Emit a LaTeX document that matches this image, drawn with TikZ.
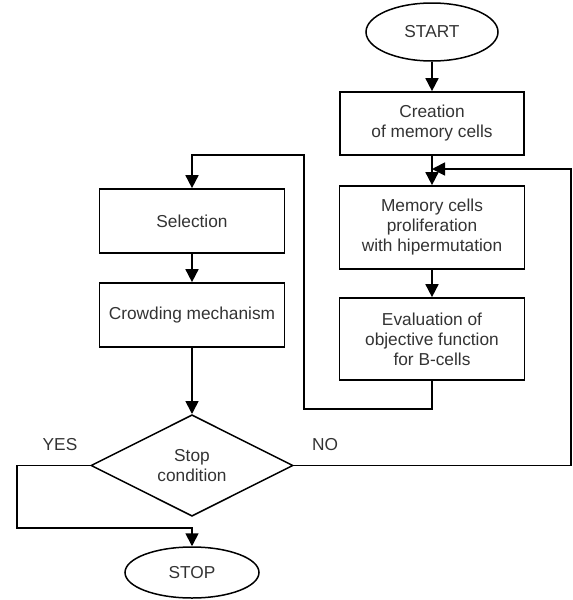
\documentclass[tikz,border=0pt]{standalone}
\usepackage{fontspec}
\setmainfont{Liberation Sans}
\usetikzlibrary{shapes.geometric,arrows.meta}
\begin{document}
\begin{tikzpicture}[x=1pt,y=-1pt,
  every node/.style={font=\fontsize{17.3}{20}\selectfont, text=black!80},
  box/.style={draw, line width=1.7pt, rectangle, inner sep=0pt, align=center},
  term/.style={draw, line width=1.5pt, ellipse, inner sep=0pt},
  dec/.style={draw, line width=1.5pt, diamond, inner sep=0pt, align=center},
  conn/.style={line width=1.7pt, -{Triangle[length=13pt,width=13pt]}},
  lbl/.style={inner sep=0pt}]
\useasboundingbox (0,0) rectangle (573,600);
% right column
\node[term, minimum width=132pt, minimum height=58pt] (start) at (432,32) {START};
\node[box, minimum width=184pt, minimum height=63pt] (create) at (432,123.5) {Creation\\of memory cells};
\node[box, minimum width=185pt, minimum height=83pt] (mem) at (432,227.5) {Memory cells\\proliferation\\with hipermutation};
\node[box, minimum width=185pt, minimum height=82pt] (eval) at (432,339) {Evaluation of\\objective function\\for B-cells};
% left column
\node[box, minimum width=185pt, minimum height=64pt] (sel) at (192,221) {Selection};
\node[box, minimum width=185pt, minimum height=64pt] (crowd) at (192,315) {Crowding mechanism};
\node[dec, minimum width=202pt, minimum height=101pt] (dec) at (192,465.5) {Stop\\condition};
\node[term, minimum width=134pt, minimum height=51pt] (stop) at (192,572.5) {STOP};
% labels
\node[lbl] (yes) at (60,445) {YES};
\node[lbl] (no) at (325,445) {NO};
% coordinates
\coordinate (j) at (432,169);
\coordinate (nr) at (571,169);
\coordinate (lb) at (304,409);
\coordinate (lt) at (304,155);
\coordinate (yl) at (17,528);
% connectors
\draw[conn] (start.south) -- (create.north);
\draw[conn] (create.south) -- (mem.north);
\draw[conn] (mem.south) -- (eval.north);
\draw[conn] (eval.south) |- (lb) -- (lt) -| (sel.north);
\draw[conn] (sel.south) -- (crowd.north);
\draw[conn] (crowd.south) -- (dec.north);
\draw[conn] (dec.east) -| (nr) -- (j);
\draw[conn] (dec.west) -| (yl) -| (stop.north);
\end{tikzpicture}
\end{document}
